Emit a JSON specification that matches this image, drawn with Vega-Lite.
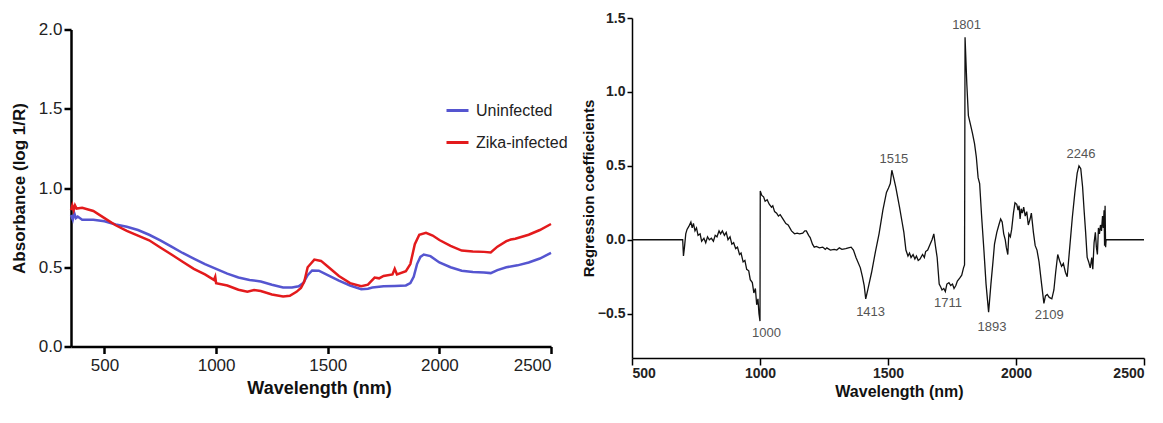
{
  "$schema": "https://vega.github.io/schema/vega-lite/v6.json",
  "background": "#ffffff",
  "padding": {"left": 10, "top": 11, "right": 2, "bottom": 2},
  "bounds": "flush",
  "center": true,
  "spacing": 81,
  "config": {
    "font": "Liberation Sans",
    "view": {"stroke": null},
    "axis": {"grid": false, "domainColor": "#000", "tickColor": "#000", "labelColor": "#222", "titleColor": "#111", "titleFontWeight": "bold"}
  },
  "datasets": {
    "spectra": [
      {"wl": 350, "a": 0.83, "g": "Uninfected"}, {"wl": 358, "a": 0.8, "g": "Uninfected"}, {"wl": 365, "a": 0.84, "g": "Uninfected"}, {"wl": 372, "a": 0.81, "g": "Uninfected"}, {"wl": 380, "a": 0.82, "g": "Uninfected"},
      {"wl": 400, "a": 0.8, "g": "Uninfected"}, {"wl": 450, "a": 0.8, "g": "Uninfected"}, {"wl": 500, "a": 0.79, "g": "Uninfected"}, {"wl": 550, "a": 0.77, "g": "Uninfected"}, {"wl": 600, "a": 0.755, "g": "Uninfected"},
      {"wl": 650, "a": 0.735, "g": "Uninfected"}, {"wl": 700, "a": 0.705, "g": "Uninfected"}, {"wl": 750, "a": 0.67, "g": "Uninfected"}, {"wl": 800, "a": 0.63, "g": "Uninfected"}, {"wl": 850, "a": 0.59, "g": "Uninfected"},
      {"wl": 900, "a": 0.555, "g": "Uninfected"}, {"wl": 950, "a": 0.52, "g": "Uninfected"}, {"wl": 1000, "a": 0.49, "g": "Uninfected"}, {"wl": 1050, "a": 0.46, "g": "Uninfected"}, {"wl": 1100, "a": 0.435, "g": "Uninfected"},
      {"wl": 1150, "a": 0.42, "g": "Uninfected"}, {"wl": 1200, "a": 0.41, "g": "Uninfected"}, {"wl": 1250, "a": 0.39, "g": "Uninfected"}, {"wl": 1300, "a": 0.373, "g": "Uninfected"}, {"wl": 1340, "a": 0.372, "g": "Uninfected"},
      {"wl": 1370, "a": 0.38, "g": "Uninfected"}, {"wl": 1390, "a": 0.4, "g": "Uninfected"}, {"wl": 1410, "a": 0.45, "g": "Uninfected"}, {"wl": 1430, "a": 0.48, "g": "Uninfected"}, {"wl": 1460, "a": 0.478, "g": "Uninfected"},
      {"wl": 1500, "a": 0.45, "g": "Uninfected"}, {"wl": 1550, "a": 0.415, "g": "Uninfected"}, {"wl": 1600, "a": 0.385, "g": "Uninfected"}, {"wl": 1650, "a": 0.362, "g": "Uninfected"}, {"wl": 1680, "a": 0.365, "g": "Uninfected"},
      {"wl": 1700, "a": 0.372, "g": "Uninfected"}, {"wl": 1750, "a": 0.38, "g": "Uninfected"}, {"wl": 1800, "a": 0.382, "g": "Uninfected"}, {"wl": 1850, "a": 0.385, "g": "Uninfected"}, {"wl": 1870, "a": 0.4, "g": "Uninfected"},
      {"wl": 1885, "a": 0.44, "g": "Uninfected"}, {"wl": 1900, "a": 0.52, "g": "Uninfected"}, {"wl": 1915, "a": 0.565, "g": "Uninfected"}, {"wl": 1930, "a": 0.58, "g": "Uninfected"}, {"wl": 1960, "a": 0.57, "g": "Uninfected"},
      {"wl": 2000, "a": 0.53, "g": "Uninfected"}, {"wl": 2050, "a": 0.5, "g": "Uninfected"}, {"wl": 2100, "a": 0.478, "g": "Uninfected"}, {"wl": 2150, "a": 0.47, "g": "Uninfected"}, {"wl": 2200, "a": 0.467, "g": "Uninfected"},
      {"wl": 2230, "a": 0.463, "g": "Uninfected"}, {"wl": 2260, "a": 0.482, "g": "Uninfected"}, {"wl": 2300, "a": 0.5, "g": "Uninfected"}, {"wl": 2350, "a": 0.512, "g": "Uninfected"}, {"wl": 2400, "a": 0.53, "g": "Uninfected"},
      {"wl": 2450, "a": 0.555, "g": "Uninfected"}, {"wl": 2500, "a": 0.59, "g": "Uninfected"},
      {"wl": 350, "a": 0.86, "g": "Zika-infected"}, {"wl": 356, "a": 0.89, "g": "Zika-infected"}, {"wl": 362, "a": 0.86, "g": "Zika-infected"}, {"wl": 368, "a": 0.89, "g": "Zika-infected"}, {"wl": 375, "a": 0.87, "g": "Zika-infected"},
      {"wl": 400, "a": 0.875, "g": "Zika-infected"}, {"wl": 450, "a": 0.855, "g": "Zika-infected"}, {"wl": 500, "a": 0.81, "g": "Zika-infected"}, {"wl": 550, "a": 0.765, "g": "Zika-infected"}, {"wl": 600, "a": 0.73, "g": "Zika-infected"},
      {"wl": 650, "a": 0.7, "g": "Zika-infected"}, {"wl": 700, "a": 0.67, "g": "Zika-infected"}, {"wl": 750, "a": 0.625, "g": "Zika-infected"}, {"wl": 800, "a": 0.58, "g": "Zika-infected"}, {"wl": 850, "a": 0.535, "g": "Zika-infected"},
      {"wl": 900, "a": 0.49, "g": "Zika-infected"}, {"wl": 950, "a": 0.455, "g": "Zika-infected"}, {"wl": 990, "a": 0.42, "g": "Zika-infected"}, {"wl": 996, "a": 0.44, "g": "Zika-infected"}, {"wl": 1000, "a": 0.4, "g": "Zika-infected"},
      {"wl": 1050, "a": 0.385, "g": "Zika-infected"}, {"wl": 1100, "a": 0.358, "g": "Zika-infected"}, {"wl": 1140, "a": 0.345, "g": "Zika-infected"}, {"wl": 1170, "a": 0.356, "g": "Zika-infected"}, {"wl": 1200, "a": 0.35, "g": "Zika-infected"},
      {"wl": 1250, "a": 0.328, "g": "Zika-infected"}, {"wl": 1300, "a": 0.315, "g": "Zika-infected"}, {"wl": 1330, "a": 0.32, "g": "Zika-infected"}, {"wl": 1360, "a": 0.345, "g": "Zika-infected"}, {"wl": 1380, "a": 0.37, "g": "Zika-infected"},
      {"wl": 1395, "a": 0.41, "g": "Zika-infected"}, {"wl": 1410, "a": 0.5, "g": "Zika-infected"}, {"wl": 1440, "a": 0.548, "g": "Zika-infected"}, {"wl": 1470, "a": 0.54, "g": "Zika-infected"}, {"wl": 1500, "a": 0.505, "g": "Zika-infected"},
      {"wl": 1550, "a": 0.445, "g": "Zika-infected"}, {"wl": 1600, "a": 0.4, "g": "Zika-infected"}, {"wl": 1650, "a": 0.38, "g": "Zika-infected"}, {"wl": 1680, "a": 0.39, "g": "Zika-infected"}, {"wl": 1710, "a": 0.435, "g": "Zika-infected"},
      {"wl": 1730, "a": 0.43, "g": "Zika-infected"}, {"wl": 1750, "a": 0.445, "g": "Zika-infected"}, {"wl": 1790, "a": 0.455, "g": "Zika-infected"}, {"wl": 1800, "a": 0.49, "g": "Zika-infected"}, {"wl": 1810, "a": 0.455, "g": "Zika-infected"},
      {"wl": 1850, "a": 0.475, "g": "Zika-infected"}, {"wl": 1870, "a": 0.52, "g": "Zika-infected"}, {"wl": 1890, "a": 0.645, "g": "Zika-infected"}, {"wl": 1910, "a": 0.705, "g": "Zika-infected"}, {"wl": 1940, "a": 0.717, "g": "Zika-infected"},
      {"wl": 1970, "a": 0.7, "g": "Zika-infected"}, {"wl": 2000, "a": 0.672, "g": "Zika-infected"}, {"wl": 2050, "a": 0.635, "g": "Zika-infected"}, {"wl": 2100, "a": 0.605, "g": "Zika-infected"}, {"wl": 2150, "a": 0.6, "g": "Zika-infected"},
      {"wl": 2200, "a": 0.597, "g": "Zika-infected"}, {"wl": 2230, "a": 0.593, "g": "Zika-infected"}, {"wl": 2260, "a": 0.63, "g": "Zika-infected"}, {"wl": 2300, "a": 0.665, "g": "Zika-infected"}, {"wl": 2320, "a": 0.675, "g": "Zika-infected"},
      {"wl": 2340, "a": 0.68, "g": "Zika-infected"}, {"wl": 2400, "a": 0.705, "g": "Zika-infected"}, {"wl": 2450, "a": 0.735, "g": "Zika-infected"}, {"wl": 2500, "a": 0.773, "g": "Zika-infected"}
    ],
    "coef": [
      {"wl": 500, "c": 0}, {"wl": 698, "c": 0}, {"wl": 701, "c": -0.11}, {"wl": 705, "c": -0.05}, {"wl": 710, "c": 0.04}, {"wl": 715, "c": 0.07}, {"wl": 722, "c": 0.09}, {"wl": 730, "c": 0.12},
      {"wl": 735, "c": 0.08}, {"wl": 740, "c": 0.11}, {"wl": 746, "c": 0.06}, {"wl": 752, "c": 0.08}, {"wl": 758, "c": 0.03}, {"wl": 766, "c": 0.04}, {"wl": 772, "c": -0.01}, {"wl": 781, "c": 0.01},
      {"wl": 788, "c": -0.02}, {"wl": 795, "c": 0.02}, {"wl": 802, "c": 0.0}, {"wl": 810, "c": 0.01}, {"wl": 818, "c": -0.01}, {"wl": 825, "c": 0.03}, {"wl": 832, "c": 0.02}, {"wl": 840, "c": 0.06},
      {"wl": 846, "c": 0.04}, {"wl": 853, "c": 0.06}, {"wl": 861, "c": 0.03}, {"wl": 868, "c": 0.05}, {"wl": 875, "c": 0.0}, {"wl": 883, "c": 0.02}, {"wl": 890, "c": -0.03}, {"wl": 897, "c": -0.02},
      {"wl": 905, "c": -0.06}, {"wl": 912, "c": -0.05}, {"wl": 920, "c": -0.1}, {"wl": 926, "c": -0.09}, {"wl": 934, "c": -0.15}, {"wl": 941, "c": -0.14}, {"wl": 948, "c": -0.2}, {"wl": 956, "c": -0.21},
      {"wl": 962, "c": -0.27}, {"wl": 970, "c": -0.29}, {"wl": 976, "c": -0.36}, {"wl": 982, "c": -0.33}, {"wl": 987, "c": -0.44}, {"wl": 992, "c": -0.4}, {"wl": 996, "c": -0.5}, {"wl": 1000, "c": -0.55},
      {"wl": 1001, "c": 0.33}, {"wl": 1007, "c": 0.3}, {"wl": 1014, "c": 0.29}, {"wl": 1020, "c": 0.26}, {"wl": 1028, "c": 0.27}, {"wl": 1036, "c": 0.24}, {"wl": 1045, "c": 0.22}, {"wl": 1050, "c": 0.23},
      {"wl": 1057, "c": 0.19}, {"wl": 1065, "c": 0.18}, {"wl": 1072, "c": 0.16}, {"wl": 1079, "c": 0.17}, {"wl": 1090, "c": 0.14}, {"wl": 1101, "c": 0.11}, {"wl": 1110, "c": 0.1}, {"wl": 1123, "c": 0.06},
      {"wl": 1135, "c": 0.04}, {"wl": 1145, "c": 0.045}, {"wl": 1155, "c": 0.04}, {"wl": 1167, "c": 0.045}, {"wl": 1175, "c": 0.06}, {"wl": 1181, "c": 0.06}, {"wl": 1190, "c": 0.03}, {"wl": 1196, "c": 0.015},
      {"wl": 1205, "c": -0.03}, {"wl": 1212, "c": -0.05}, {"wl": 1220, "c": -0.045}, {"wl": 1232, "c": -0.055}, {"wl": 1245, "c": -0.05}, {"wl": 1255, "c": -0.065}, {"wl": 1261, "c": -0.055}, {"wl": 1275, "c": -0.07},
      {"wl": 1290, "c": -0.065}, {"wl": 1300, "c": -0.07}, {"wl": 1310, "c": -0.055}, {"wl": 1320, "c": -0.065}, {"wl": 1335, "c": -0.06}, {"wl": 1345, "c": -0.055}, {"wl": 1356, "c": -0.05}, {"wl": 1365, "c": -0.07},
      {"wl": 1375, "c": -0.12}, {"wl": 1392, "c": -0.19}, {"wl": 1400, "c": -0.25}, {"wl": 1407, "c": -0.31}, {"wl": 1413, "c": -0.4}, {"wl": 1422, "c": -0.33}, {"wl": 1436, "c": -0.22}, {"wl": 1451, "c": -0.08},
      {"wl": 1465, "c": 0.04}, {"wl": 1480, "c": 0.2}, {"wl": 1494, "c": 0.32}, {"wl": 1502, "c": 0.35}, {"wl": 1509, "c": 0.38}, {"wl": 1515, "c": 0.47}, {"wl": 1522, "c": 0.42}, {"wl": 1530, "c": 0.36},
      {"wl": 1545, "c": 0.22}, {"wl": 1555, "c": 0.12}, {"wl": 1562, "c": 0.05}, {"wl": 1570, "c": -0.07}, {"wl": 1578, "c": -0.11}, {"wl": 1584, "c": -0.09}, {"wl": 1590, "c": -0.12}, {"wl": 1598, "c": -0.1},
      {"wl": 1605, "c": -0.13}, {"wl": 1611, "c": -0.11}, {"wl": 1618, "c": -0.14}, {"wl": 1625, "c": -0.13}, {"wl": 1635, "c": -0.1}, {"wl": 1642, "c": -0.12}, {"wl": 1647, "c": -0.08}, {"wl": 1655, "c": -0.07},
      {"wl": 1662, "c": -0.04}, {"wl": 1672, "c": 0.0}, {"wl": 1679, "c": 0.04}, {"wl": 1686, "c": -0.05}, {"wl": 1692, "c": -0.12}, {"wl": 1700, "c": -0.3}, {"wl": 1706, "c": -0.32}, {"wl": 1711, "c": -0.34},
      {"wl": 1718, "c": -0.33}, {"wl": 1724, "c": -0.35}, {"wl": 1730, "c": -0.3}, {"wl": 1738, "c": -0.29}, {"wl": 1745, "c": -0.31}, {"wl": 1752, "c": -0.3}, {"wl": 1758, "c": -0.33}, {"wl": 1765, "c": -0.31},
      {"wl": 1771, "c": -0.28}, {"wl": 1780, "c": -0.26}, {"wl": 1788, "c": -0.24}, {"wl": 1795, "c": -0.19}, {"wl": 1799, "c": -0.17}, {"wl": 1801, "c": 1.37}, {"wl": 1808, "c": 1.05}, {"wl": 1814, "c": 0.84},
      {"wl": 1822, "c": 0.78}, {"wl": 1830, "c": 0.72}, {"wl": 1838, "c": 0.65}, {"wl": 1845, "c": 0.56}, {"wl": 1852, "c": 0.42}, {"wl": 1858, "c": 0.38}, {"wl": 1866, "c": 0.15}, {"wl": 1875, "c": -0.08},
      {"wl": 1883, "c": -0.3}, {"wl": 1893, "c": -0.49}, {"wl": 1902, "c": -0.3}, {"wl": 1910, "c": -0.15}, {"wl": 1916, "c": -0.03}, {"wl": 1925, "c": 0.05}, {"wl": 1933, "c": 0.1}, {"wl": 1940, "c": 0.14},
      {"wl": 1946, "c": 0.12}, {"wl": 1952, "c": 0.04}, {"wl": 1958, "c": 0.0}, {"wl": 1962, "c": -0.05}, {"wl": 1968, "c": -0.1}, {"wl": 1972, "c": 0.04}, {"wl": 1978, "c": 0.02}, {"wl": 1983, "c": 0.07},
      {"wl": 1990, "c": 0.18}, {"wl": 1996, "c": 0.25}, {"wl": 2003, "c": 0.24}, {"wl": 2008, "c": 0.2}, {"wl": 2012, "c": 0.23}, {"wl": 2016, "c": 0.14}, {"wl": 2020, "c": 0.21}, {"wl": 2025, "c": 0.18},
      {"wl": 2030, "c": 0.22}, {"wl": 2036, "c": 0.16}, {"wl": 2042, "c": 0.19}, {"wl": 2048, "c": 0.1}, {"wl": 2055, "c": 0.14}, {"wl": 2060, "c": 0.18}, {"wl": 2068, "c": 0.05}, {"wl": 2075, "c": -0.04},
      {"wl": 2082, "c": -0.07}, {"wl": 2090, "c": -0.15}, {"wl": 2100, "c": -0.3}, {"wl": 2109, "c": -0.43}, {"wl": 2115, "c": -0.38}, {"wl": 2122, "c": -0.37}, {"wl": 2130, "c": -0.39}, {"wl": 2140, "c": -0.4},
      {"wl": 2148, "c": -0.34}, {"wl": 2155, "c": -0.22}, {"wl": 2163, "c": -0.1}, {"wl": 2170, "c": -0.14}, {"wl": 2178, "c": -0.18}, {"wl": 2185, "c": -0.16}, {"wl": 2193, "c": -0.22}, {"wl": 2200, "c": -0.25},
      {"wl": 2210, "c": -0.05}, {"wl": 2220, "c": 0.15}, {"wl": 2230, "c": 0.32}, {"wl": 2239, "c": 0.45}, {"wl": 2246, "c": 0.5}, {"wl": 2253, "c": 0.48}, {"wl": 2260, "c": 0.36}, {"wl": 2266, "c": 0.2},
      {"wl": 2272, "c": 0.05}, {"wl": 2278, "c": -0.12}, {"wl": 2284, "c": -0.15}, {"wl": 2290, "c": -0.19}, {"wl": 2296, "c": -0.12}, {"wl": 2300, "c": -0.2}, {"wl": 2305, "c": -0.02}, {"wl": 2310, "c": 0.05},
      {"wl": 2314, "c": -0.05}, {"wl": 2318, "c": -0.1}, {"wl": 2322, "c": 0.08}, {"wl": 2326, "c": 0.04}, {"wl": 2330, "c": 0.1}, {"wl": 2334, "c": 0.06}, {"wl": 2338, "c": 0.16}, {"wl": 2341, "c": 0.08},
      {"wl": 2344, "c": 0.2}, {"wl": 2346, "c": -0.04}, {"wl": 2348, "c": 0.23}, {"wl": 2350, "c": -0.05}, {"wl": 2352, "c": 0.0}, {"wl": 2500, "c": 0.0}
    ],
    "peaks": [
      {"wl": 1025, "c": -0.63, "t": "1000"}, {"wl": 1432, "c": -0.49, "t": "1413"}, {"wl": 1523, "c": 0.545, "t": "1515"}, {"wl": 1734, "c": -0.43, "t": "1711"},
      {"wl": 1807, "c": 1.45, "t": "1801"}, {"wl": 1906, "c": -0.59, "t": "1893"}, {"wl": 2130, "c": -0.51, "t": "2109"}, {"wl": 2254, "c": 0.58, "t": "2246"}
    ]
  },
  "hconcat": [
    {
      "width": 480,
      "height": 317,
      "data": {"name": "spectra"},
      "mark": {"type": "line", "strokeWidth": 2.5},
      "encoding": {
        "x": {"field": "wl", "type": "quantitative", "scale": {"domain": [350, 2500], "nice": false, "zero": false},
          "axis": {"values": [500, 1000, 1500, 2000, 2500], "format": "d", "labelFontSize": 17, "tickSize": 7, "tickWidth": 2.5, "domainWidth": 2.5, "labelPadding": 4, "title": "Wavelength (nm)", "titleFontSize": 18, "titlePadding": 6, "titleX": 248}},
        "y": {"field": "a", "type": "quantitative", "scale": {"domain": [0, 2], "nice": false},
          "axis": {"values": [0, 0.5, 1, 1.5, 2], "format": ".1f", "labelFontSize": 17, "tickSize": 7, "tickWidth": 2.5, "domainWidth": 2.5, "labelPadding": 2, "title": "Absorbance (log 1/R)", "titleFontSize": 17, "titlePadding": 10}},
        "color": {"field": "g", "type": "nominal", "scale": {"domain": ["Uninfected", "Zika-infected"], "range": ["#5555d0", "#e31a1c"]},
          "legend": {"title": null, "orient": "none", "legendX": 374, "legendY": 80, "labelFontSize": 16, "labelColor": "#222", "symbolType": "stroke", "symbolStrokeWidth": 3, "symbolSize": 484, "labelOffset": 6, "rowPadding": 11}}
      }
    },
    {
      "width": 512,
      "height": 340,
      "layer": [
        {
          "data": {"name": "coef"},
          "mark": {"type": "line", "strokeWidth": 1.3, "color": "#111"},
          "encoding": {
            "x": {"field": "wl", "type": "quantitative", "scale": {"domain": [500, 2500], "nice": false, "zero": false},
              "axis": {"values": [500, 1000, 1500, 2000, 2500], "format": "d", "labelFontSize": 14, "labelFontWeight": "bold", "tickSize": 7, "tickWidth": 1.5, "domainWidth": 1.5, "labelPadding": 1, "title": "Wavelength (nm)", "titleFontSize": 16, "titlePadding": 3, "titleX": 267}},
            "y": {"field": "c", "type": "quantitative", "scale": {"domain": [-0.8, 1.5], "nice": false, "zero": false},
              "axis": {"values": [-0.5, 0, 0.5, 1, 1.5], "format": ".1f", "labelFontSize": 14, "labelFontWeight": "bold", "tickSize": 5, "tickWidth": 1.5, "domainWidth": 1.5, "labelPadding": 2, "title": "Regression coeffiecients", "titleFontSize": 15, "titlePadding": 1}}
          }
        },
        {
          "data": {"name": "peaks"},
          "mark": {"type": "text", "fontSize": 13, "color": "#555", "align": "center", "baseline": "middle"},
          "encoding": {
            "x": {"field": "wl", "type": "quantitative"},
            "y": {"field": "c", "type": "quantitative"},
            "text": {"field": "t", "type": "nominal"}
          }
        }
      ]
    }
  ]
}
